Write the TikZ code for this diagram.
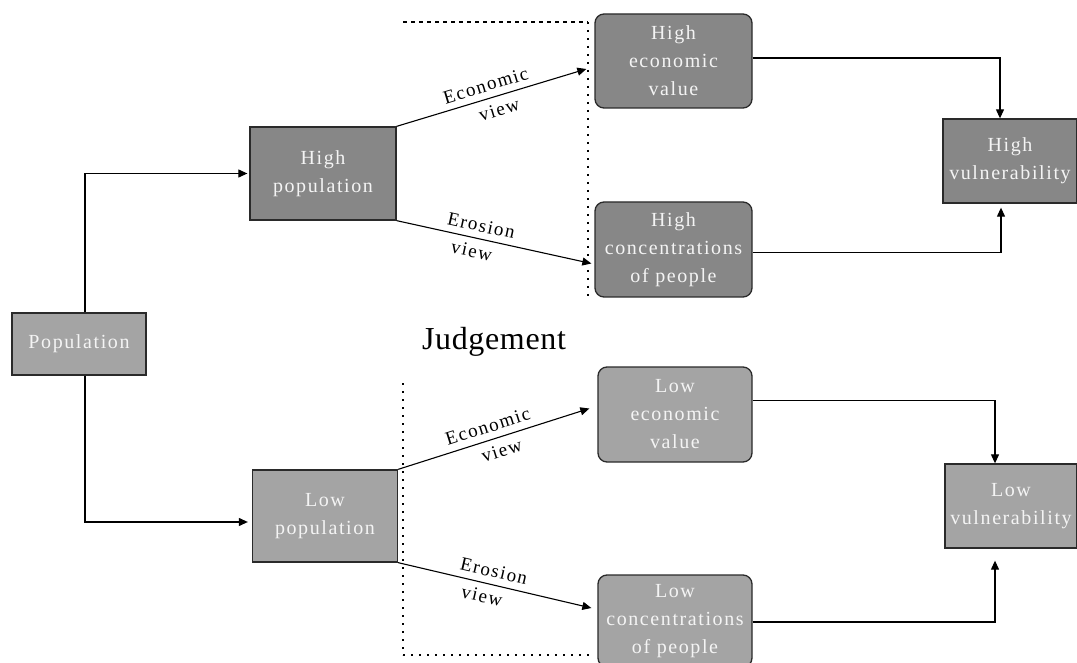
\documentclass[tikz,border=0pt]{standalone}
\usepackage{fontspec}
\setmainfont{Liberation Serif}
\newfontfamily\boxfont[LetterSpace=8]{Liberation Serif}
\newfontfamily\lblfont[LetterSpace=8]{Liberation Serif}
\newfontfamily\judgfont[LetterSpace=2]{Liberation Serif}
\usetikzlibrary{arrows.meta}
\definecolor{darkbox}{HTML}{878787}
\definecolor{lightbox}{HTML}{A4A4A4}
\definecolor{boxtext}{HTML}{F4F4F4}
\definecolor{edge}{HTML}{2A2A2A}
\begin{document}
\begin{tikzpicture}[x=1pt,y=-1pt,
  basebox/.style={draw=edge, line width=1.3pt, text=boxtext, align=center, inner sep=0pt,
    font=\boxfont\fontsize{20}{28}\selectfont},
  darkrect/.style={basebox, fill=darkbox},
  lightrect/.style={basebox, fill=lightbox},
  darkround/.style={basebox, fill=darkbox, rounded corners=9pt},
  lightround/.style={basebox, fill=lightbox, rounded corners=9pt},
  arr/.style={draw=black, line width=1.1pt, -{Triangle[length=9pt,width=8pt]}},
  lbl/.style={font=\lblfont\fontsize{19}{22}\selectfont, text=black, inner sep=6.5pt, sloped},
  dashedframe/.style={line width=1.3pt, dash pattern=on 4pt off 4pt},
  dottedframe/.style={line width=1.6pt, dash pattern=on 2pt off 6pt}
]
\useasboundingbox (0,0) rectangle (1077,663);

% boxes
\node[lightrect, minimum width=134pt, minimum height=62pt] (pop) at (79,344) {Population};
\node[darkrect, minimum width=146pt, minimum height=93pt] (hpop) at (323,173.5) {High\\population};
\node[lightrect, minimum width=145pt, minimum height=92pt] (lpop) at (325,516) {Low\\population};

\node[darkround, minimum width=157pt, minimum height=94pt] (hev) at (673.5,61) {High\\economic\\value};
\node[darkround, minimum width=157pt, minimum height=95pt] (hcp) at (673.5,249.5) {High\\concentrations\\of people};
\node[darkrect, minimum width=134pt, minimum height=84pt] (hv) at (1010,161) {High\\vulnerability};

\node[lightround, minimum width=154pt, minimum height=95pt] (lev) at (675,414.5) {Low\\economic\\value};
\node[lightround, minimum width=154pt, minimum height=92pt] (lcp) at (675,621) {Low\\concentrations\\of people};
\node[lightrect, minimum width=132pt, minimum height=84pt] (lv) at (1011,506) {Low\\vulnerability};

\node[font=\judgfont\fontsize{32}{36}\selectfont, text=black] (judg) at (494,342) {Judgement};

% frames
\coordinate (ft1) at (403,22);
\coordinate (ft2) at (588,22);
\coordinate (ft3) at (588,300);
\draw[dashedframe] (ft1) -- (ft2);
\draw[dottedframe] (ft2) -- (ft3);
\coordinate (fb1) at (403,383);
\coordinate (fb2) at (403,655);
\coordinate (fb3) at (590,655);
\draw[dottedframe] (fb1) -- (fb2);
\draw[dottedframe] (fb2) -- (fb3);

% population arrows
\draw[arr] ([xshift=6pt]pop.north) |- ([xshift=-2pt]hpop.west);
\draw[arr] ([xshift=6pt]pop.south) |- ([xshift=-4pt,yshift=-6pt]lpop.west);

% view arrows (high)
\draw[arr] (hpop.north east) -- ([shift={(-8,8)}]hev.west)
  node[lbl, pos=0.49, anchor=south] {Economic}
  node[lbl, pos=0.52, anchor=north] {view};
\draw[arr] (hpop.south east) -- ([shift={(-3,14)}]hcp.west)
  node[lbl, pos=0.42, anchor=south] {Erosion}
  node[lbl, pos=0.40, anchor=north] {view};

% view arrows (low)
\draw[arr] (lpop.north east) -- ([shift={(-8,-6)}]lev.west)
  node[lbl, pos=0.49, anchor=south] {Economic}
  node[lbl, pos=0.52, anchor=north] {view};
\draw[arr] (lpop.south east) -- ([shift={(-6,-13)}]lcp.west)
  node[lbl, pos=0.48, anchor=south] {Erosion}
  node[lbl, pos=0.45, anchor=north] {view};

% vulnerability arrows
\draw[arr] ([yshift=3pt]hev.east) -| ([xshift=-10pt]hv.north);
\draw[arr] ([yshift=-3pt]hcp.east) -| ([xshift=-9pt,yshift=-4pt]hv.south);
\draw[arr] ([yshift=14pt]lev.east) -| ([xshift=-16pt]lv.north);
\draw[arr] ([yshift=-1pt]lcp.east) -| ([xshift=-16pt,yshift=-12pt]lv.south);
\end{tikzpicture}
\end{document}
